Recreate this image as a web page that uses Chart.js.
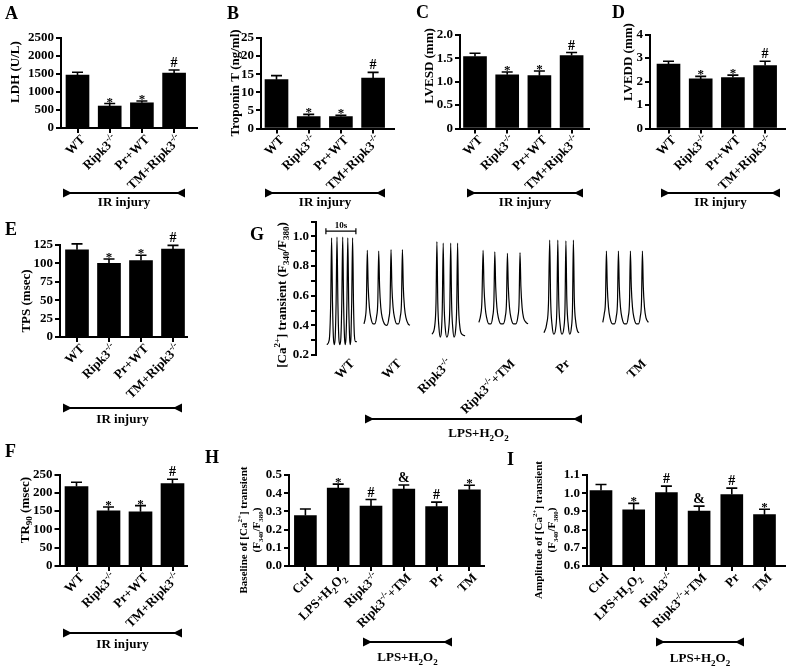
<!DOCTYPE html>
<html><head><meta charset="utf-8">
<script src="https://cdn.jsdelivr.net/npm/chart.js@4.4.1/dist/chart.umd.min.js"></script>
<style>
html,body{margin:0;padding:0;background:#fff;}
#wrap{position:relative;width:796px;height:670px;overflow:hidden;background:#fff;}
#wrap canvas{position:absolute;left:0;top:0;}
</style></head><body><div id="wrap"></div>
<script>
const FONT = '"Liberation Serif", "Times New Roman", serif';

// ---------- categories ----------
const irGroups = ['WT', 'Ripk3-/-', 'Pr+WT', 'TM+Ripk3-/-'];
const cellGroups = ['Ctrl', 'LPS+H2O2', 'Ripk3-/-', 'Ripk3-/-+TM', 'Pr', 'TM'];
const traceGroups = ['WT', 'WT', 'Ripk3-/-', 'Ripk3-/-+TM', 'Pr', 'TM'];

// ---------- panel values (mean, SEM, significance) ----------
const ldh = [1470, 610, 700, 1525];
const ldhErr = [80, 70, 50, 85];
const ldhSig = ['', '*', '*', '#'];

const troponin = [13.5, 3.3, 3.3, 13.9];
const troponinErr = [1.1, 0.6, 0.35, 1.6];
const troponinSig = ['', '*', '*', '#'];

const lvesd = [1.54, 1.15, 1.13, 1.56];
const lvesdErr = [0.07, 0.06, 0.10, 0.065];
const lvesdSig = ['', '*', '*', '#'];

const lvedd = [2.74, 2.11, 2.17, 2.68];
const lveddErr = [0.12, 0.11, 0.10, 0.18];
const lveddSig = ['', '*', '*', '#'];

const tps = [118.5, 100, 104, 119.5];
const tpsErr = [8, 6, 7, 5];
const tpsSig = ['', '*', '*', '#'];

const tr90 = [217, 151, 148, 225];
const tr90Err = [12, 10, 17, 12];
const tr90Sig = ['', '*', '*', '#'];

const baseline = [0.277, 0.428, 0.329, 0.422, 0.326, 0.419];
const baselineErr = [0.036, 0.022, 0.036, 0.023, 0.025, 0.025];
const baselineSig = ['', '*', '#', '&', '#', '*'];

const amplitude = [1.015, 0.908, 1.003, 0.902, 0.993, 0.882];
const amplitudeErr = [0.033, 0.036, 0.036, 0.027, 0.035, 0.030];
const amplitudeSig = ['', '*', '#', '&', '#', '*'];

// ---------- tick labels ----------
const ldhTicks = [0, 500, 1000, 1500, 2000, 2500];
const troponinTicks = [0, 5, 10, 15, 20, 25];
const lvesdTicks = [0, 0.5, 1.0, 1.5, 2.0];
const lveddTicks = [0, 1, 2, 3, 4];
const tpsTicks = [0, 25, 50, 75, 100, 125];
const tr90Ticks = [0, 50, 100, 150, 200, 250];
const baselineTicks = [0, 0.1, 0.2, 0.3, 0.4, 0.5];
const amplitudeTicks = [0.6, 0.7, 0.8, 0.9, 1.0, 1.1];
const caTicks = [0.2, 0.3, 0.4, 0.5, 0.6, 0.7, 0.8, 0.9, 1.0, 1.1];

// ---------- Ca2+ transient traces [time (s), F340/F380] ----------
const traceWT = [[3.6,0.27],[4.4,0.30],[4.9,0.55],[5.2,0.99],[5.5,0.55],[5.8,0.32],[6.1,0.27],[6.4,0.32],[6.7,0.55],[7.0,0.995],[7.3,0.55],[7.6,0.32],[7.95,0.27],[8.3,0.32],[8.6,0.55],[8.9,0.995],[9.2,0.55],[9.5,0.32],[9.75,0.27],[10.0,0.32],[10.3,0.55],[10.6,0.99],[10.9,0.55],[11.2,0.32],[11.4,0.27],[11.65,0.32],[11.9,0.55],[12.2,0.99],[12.5,0.55],[12.8,0.33],[13.2,0.29],[13.6,0.29]];
const traceLpsWT = [[16.0,0.41],[16.5,0.46],[16.8,0.55],[17.1,0.905],[17.4,0.66],[17.8,0.52],[18.3,0.45],[19.0,0.41],[19.6,0.41],[20.2,0.46],[20.6,0.56],[20.9,0.90],[21.2,0.66],[21.6,0.52],[22.1,0.45],[22.8,0.41],[23.6,0.40],[24.3,0.45],[24.7,0.55],[25.0,0.91],[25.3,0.66],[25.7,0.52],[26.2,0.45],[26.9,0.41],[27.5,0.41],[28.1,0.46],[28.5,0.56],[28.8,0.91],[29.1,0.66],[29.5,0.52],[30.0,0.45],[30.7,0.41],[31.3,0.40]];
const traceRipk3 = [[38.7,0.34],[39.6,0.40],[40.0,0.55],[40.3,0.965],[40.6,0.55],[41.0,0.38],[41.4,0.32],[41.8,0.36],[42.1,0.52],[42.4,0.955],[42.7,0.55],[43.1,0.38],[43.6,0.32],[44.2,0.37],[44.6,0.52],[44.9,0.955],[45.2,0.55],[45.6,0.38],[46.0,0.32],[46.5,0.36],[46.9,0.52],[47.2,0.955],[47.5,0.55],[47.9,0.40],[48.6,0.34],[49.7,0.33]];
const traceRipk3TM = [[54.3,0.42],[54.9,0.47],[55.3,0.56],[55.7,0.905],[56.0,0.66],[56.4,0.52],[56.9,0.45],[57.6,0.41],[58.3,0.41],[58.9,0.46],[59.3,0.56],[59.6,0.895],[59.9,0.66],[60.3,0.52],[60.8,0.45],[61.6,0.41],[62.4,0.41],[63.1,0.46],[63.5,0.56],[63.8,0.885],[64.1,0.66],[64.5,0.52],[65.0,0.45],[65.8,0.41],[66.6,0.41],[67.3,0.46],[67.7,0.56],[68.0,0.89],[68.3,0.66],[68.7,0.52],[69.2,0.45],[70.0,0.42],[70.7,0.41]];
const tracePr = [[76.0,0.35],[76.9,0.41],[77.5,0.55],[77.9,0.975],[78.2,0.58],[78.7,0.40],[79.3,0.34],[79.9,0.38],[80.3,0.52],[80.6,0.975],[80.9,0.58],[81.4,0.40],[82.0,0.34],[82.6,0.38],[83.0,0.52],[83.3,0.97],[83.6,0.58],[84.1,0.40],[84.6,0.34],[85.1,0.38],[85.5,0.52],[85.8,0.975],[86.1,0.58],[86.6,0.42],[87.2,0.36],[87.7,0.35]];
const traceTM = [[95.6,0.42],[96.1,0.48],[96.5,0.57],[96.8,0.90],[97.1,0.66],[97.5,0.52],[98.0,0.45],[98.8,0.41],[99.5,0.41],[100.1,0.46],[100.5,0.56],[100.8,0.90],[101.1,0.66],[101.5,0.52],[102.0,0.45],[102.8,0.41],[103.5,0.41],[104.1,0.46],[104.5,0.56],[104.8,0.90],[105.1,0.66],[105.5,0.52],[106.0,0.45],[106.8,0.41],[107.5,0.41],[108.1,0.46],[108.5,0.56],[108.8,0.90],[109.1,0.66],[109.5,0.52],[110.0,0.45],[110.8,0.42]];
const traces = [traceWT, traceLpsWT, traceRipk3, traceRipk3TM, tracePr, traceTM];
const scaleBarSeconds = 10;

// ---------- rich text helpers ----------
const RICH = {
  'Ripk3-/-': [['Ripk3'], ['-/-', 'sup']],
  'TM+Ripk3-/-': [['TM+Ripk3'], ['-/-', 'sup']],
  'Ripk3-/-+TM': [['Ripk3'], ['-/-', 'sup'], ['+TM']],
  'LPS+H2O2': [['LPS+H'], ['2', 'sub'], ['O'], ['2', 'sub']]
};
function rich(label) { return RICH[label] || [[label]]; }
function segFont(size, kind) { const s = kind ? Math.round(size * 0.68) : size; return `bold ${s}px ${FONT}`; }
function richWidth(ctx, segs, size) { let w = 0; for (const [t, k] of segs) { ctx.font = segFont(size, k); w += ctx.measureText(t).width; } return w; }
function drawRich(ctx, segs, x, y, size, align) {
  const w = richWidth(ctx, segs, size);
  let cx = align === 'right' ? x - w : align === 'center' ? x - w / 2 : x;
  ctx.textAlign = 'left'; ctx.textBaseline = 'alphabetic';
  for (const [t, k] of segs) {
    ctx.font = segFont(size, k);
    const dy = k === 'sup' ? -size * 0.42 : k === 'sub' ? size * 0.28 : 0;
    ctx.fillText(t, cx, y + dy);
    cx += ctx.measureText(t).width;
  }
}

const decor = {
  id: 'decor',
  afterDraw(chart, args, o) {
    const ctx = chart.ctx, xs = chart.scales.x, ys = chart.scales.y, area = chart.chartArea;
    ctx.save(); ctx.fillStyle = '#000'; ctx.strokeStyle = '#000';
    if (o.letter) {
      ctx.font = `bold 18px ${FONT}`; ctx.textAlign = 'left'; ctx.textBaseline = 'alphabetic';
      ctx.fillText(o.letter.t, o.letter.x, o.letter.y);
    }
    if (o.ytitle) {
      const sz = o.ytitle.size || 13;
      for (const line of o.ytitle.lines) {
        ctx.save(); ctx.translate(line.x, o.ytitle.cy); ctx.rotate(-Math.PI / 2);
        drawRich(ctx, line.segs, 0, sz * 0.35, sz, 'center'); ctx.restore();
      }
    }
    const ds = chart.data.datasets[0];
    if (o.err) {
      ctx.lineWidth = 1.6;
      o.err.forEach((e, i) => {
        const v = ds.data[i].y, x = xs.getPixelForValue(i);
        const y0 = ys.getPixelForValue(v), y1 = ys.getPixelForValue(v + e);
        ctx.beginPath(); ctx.moveTo(x, y0); ctx.lineTo(x, y1);
        ctx.moveTo(x - 5.5, y1); ctx.lineTo(x + 5.5, y1); ctx.stroke();
      });
    }
    if (o.sig) {
      ctx.textAlign = 'center'; ctx.textBaseline = 'alphabetic';
      o.sig.forEach((s, i) => {
        if (!s) return;
        const v = ds.data[i].y + o.err[i];
        const y = ys.getPixelForValue(v);
        ctx.font = `bold ${s === '*' ? 13 : 14}px ${FONT}`;
        ctx.fillText(s, xs.getPixelForValue(i), s === '*' ? y + 2 : y - 3);
      });
    }
    if (o.xlabels) {
      const L = o.xlabels, sz = L.size || 13;
      L.labels.forEach((lab, i) => {
        const px = xs.getPixelForValue(L.pos ? L.pos[i] : i) + (L.dx || 0);
        const py = (L.y != null ? L.y : area.bottom) + (L.dy || 0);
        ctx.save(); ctx.translate(px, py); ctx.rotate(-Math.PI / 4);
        drawRich(ctx, rich(lab), 0, sz * 0.35, sz, 'right'); ctx.restore();
      });
    }
    if (o.bracket) {
      const b = o.bracket;
      ctx.lineWidth = 2;
      ctx.beginPath(); ctx.moveTo(b.x1, b.y); ctx.lineTo(b.x2, b.y); ctx.stroke();
      ctx.beginPath(); ctx.moveTo(b.x1, b.y - 4.5); ctx.lineTo(b.x1, b.y + 4.5); ctx.lineTo(b.x1 + 9, b.y); ctx.closePath(); ctx.fill();
      ctx.beginPath(); ctx.moveTo(b.x2, b.y - 4.5); ctx.lineTo(b.x2, b.y + 4.5); ctx.lineTo(b.x2 - 9, b.y); ctx.closePath(); ctx.fill();
      drawRich(ctx, rich(b.text), (b.x1 + b.x2) / 2 + (b.tdx || 0), b.ty, 13, 'center');
    }
    if (o.scaleBar) {
      const s = o.scaleBar;
      const x1 = xs.getPixelForValue(s.x), x2 = xs.getPixelForValue(s.x + scaleBarSeconds), y = ys.getPixelForValue(s.y);
      ctx.lineWidth = 1.2;
      ctx.beginPath(); ctx.moveTo(x1, y); ctx.lineTo(x2, y);
      ctx.moveTo(x1, y - 3); ctx.lineTo(x1, y + 3); ctx.moveTo(x2, y - 3); ctx.lineTo(x2, y + 3); ctx.stroke();
      ctx.font = `bold 9px ${FONT}`; ctx.textAlign = 'center'; ctx.textBaseline = 'alphabetic';
      ctx.fillText(scaleBarSeconds + 's', (x1 + x2) / 2, y - 3);
    }
    ctx.restore();
  }
};

const wrap = document.getElementById('wrap');
function newCanvas() {
  const c = document.createElement('canvas'); c.width = 796; c.height = 670;
  c.style.width = '796px'; c.style.height = '670px'; wrap.appendChild(c); return c;
}
const YW = 40, XH = 6;
function axisLine() { return { display: true, color: '#000', width: 2 }; }
function tickGrid() { return { drawOnChartArea: false, drawTicks: true, tickLength: 5, color: '#000', lineWidth: 2, offset: false }; }

function makeBar(cfg) {
  const xmin = -cfg.off / cfg.sp, xmax = xmin + (cfg.right - cfg.left) / cfg.sp;
  new Chart(newCanvas(), {
    type: 'bar',
    data: { datasets: [{ data: cfg.values.map((v, i) => ({ x: i, y: v })), backgroundColor: '#000', borderWidth: 0, barThickness: cfg.bw }] },
    options: {
      responsive: false, animation: false, devicePixelRatio: 1,
      layout: { padding: { left: cfg.left - YW, top: cfg.top, right: 796 - cfg.right, bottom: 670 - cfg.bottom - XH } },
      plugins: {
        legend: { display: false }, tooltip: { enabled: false },
        decor: {
          letter: cfg.letter, ytitle: cfg.ytitle, err: cfg.err, sig: cfg.sig,
          xlabels: { labels: cfg.cats, dx: 5, dy: 9, size: 13 }, bracket: cfg.bracket
        }
      },
      scales: {
        x: {
          type: 'linear', min: xmin, max: xmax, offset: false,
          afterBuildTicks: s => { s.ticks = cfg.cats.map((c, i) => ({ value: i })); },
          afterFit: s => { s.height = XH; },
          ticks: { display: false, autoSkip: false }, grid: tickGrid(), border: axisLine()
        },
        y: {
          type: 'linear', min: cfg.ticks[0], max: cfg.ticks[cfg.ticks.length - 1],
          afterBuildTicks: s => { s.ticks = cfg.ticks.map(v => ({ value: v })); },
          afterFit: s => { s.width = YW; },
          ticks: { autoSkip: false, color: '#000', padding: 2, font: { family: FONT, size: 13, weight: 'bold' }, callback: cfg.fmt },
          grid: tickGrid(), border: axisLine()
        }
      }
    },
    plugins: [decor]
  });
}
const fmtInt = v => String(v);
const fmt1 = v => v.toFixed(1);
const fmtC = v => v === 0 ? '0' : v.toFixed(1);

makeBar({ values: ldh, err: ldhErr, sig: ldhSig, cats: irGroups, ticks: ldhTicks, fmt: fmtInt,
  left: 61, top: 38, bottom: 128, right: 197, off: 16.5, sp: 32.2, bw: 23,
  letter: { t: 'A', x: 5, y: 19 }, ytitle: { cy: 72, lines: [{ segs: [['LDH (U/L)']], x: 14 }] },
  bracket: { x1: 63, x2: 185, y: 193, ty: 206, text: 'IR injury' } });
makeBar({ values: troponin, err: troponinErr, sig: troponinSig, cats: irGroups, ticks: troponinTicks, fmt: fmtInt,
  left: 261, top: 38, bottom: 128.5, right: 394, off: 15.5, sp: 32.2, bw: 23,
  letter: { t: 'B', x: 227, y: 19 }, ytitle: { cy: 83, lines: [{ segs: [['Troponin T (ng/ml)']], x: 234 }] },
  bracket: { x1: 265, x2: 385, y: 193, ty: 206, text: 'IR injury' } });
makeBar({ values: lvesd, err: lvesdErr, sig: lvesdSig, cats: irGroups, ticks: lvesdTicks, fmt: fmtC,
  left: 460, top: 35, bottom: 128.5, right: 589, off: 15, sp: 32.2, bw: 23,
  letter: { t: 'C', x: 416, y: 18 }, ytitle: { cy: 66, lines: [{ segs: [['LVESD (mm)']], x: 428 }] },
  bracket: { x1: 467, x2: 583, y: 193, ty: 206, text: 'IR injury' } });
makeBar({ values: lvedd, err: lveddErr, sig: lveddSig, cats: irGroups, ticks: lveddTicks, fmt: fmtInt,
  left: 650, top: 34.5, bottom: 128.5, right: 785, off: 18.5, sp: 32.2, bw: 23,
  letter: { t: 'D', x: 612, y: 18 }, ytitle: { cy: 62, lines: [{ segs: [['LVEDD (mm)']], x: 627 }] },
  bracket: { x1: 661, x2: 780, y: 193, ty: 206, text: 'IR injury' } });
makeBar({ values: tps, err: tpsErr, sig: tpsSig, cats: irGroups, ticks: tpsTicks, fmt: fmtInt,
  left: 60, top: 245, bottom: 337, right: 187, off: 17, sp: 32, bw: 23,
  letter: { t: 'E', x: 5, y: 235 }, ytitle: { cy: 301, lines: [{ segs: [['TPS (msec)']], x: 25 }] },
  bracket: { x1: 63, x2: 182, y: 408, ty: 423, text: 'IR injury' } });
makeBar({ values: tr90, err: tr90Err, sig: tr90Sig, cats: irGroups, ticks: tr90Ticks, fmt: fmtInt,
  left: 59.5, top: 474.5, bottom: 566, right: 187, off: 17, sp: 32, bw: 23,
  letter: { t: 'F', x: 5, y: 457 }, ytitle: { cy: 510, lines: [{ segs: [['TR'], ['90', 'sub'], [' (msec)']], x: 24 }] },
  bracket: { x1: 63, x2: 182, y: 633, ty: 648, text: 'IR injury' } });
makeBar({ values: baseline, err: baselineErr, sig: baselineSig, cats: cellGroups, ticks: baselineTicks, fmt: fmt1,
  left: 289, top: 475, bottom: 566, right: 484, off: 16.4, sp: 32.8, bw: 22,
  letter: { t: 'H', x: 205, y: 463 },
  ytitle: { cy: 530, size: 11, lines: [
    { segs: [['Baseline of [Ca'], ['2+', 'sup'], ['] transient']], x: 243 },
    { segs: [['(F'], ['340', 'sub'], ['/F'], ['380', 'sub'], [')']], x: 256 }] },
  bracket: { x1: 363, x2: 452, y: 642, ty: 661, text: 'LPS+H2O2' } });
makeBar({ values: amplitude, err: amplitudeErr, sig: amplitudeSig, cats: cellGroups, ticks: amplitudeTicks, fmt: fmt1,
  left: 587, top: 475, bottom: 566, right: 785, off: 14, sp: 32.7, bw: 22,
  letter: { t: 'I', x: 507, y: 465 },
  ytitle: { cy: 530, size: 11, lines: [
    { segs: [['Amplitude of [Ca'], ['2+', 'sup'], ['] transient']], x: 538 },
    { segs: [['(F'], ['340', 'sub'], ['/F'], ['380', 'sub'], [')']], x: 551 }] },
  bracket: { x1: 656, x2: 744, y: 642, ty: 662, text: 'LPS+H2O2' } });

// ---------- panel G: Ca2+ transients ----------
const gLeft = 316, gTop = 221.5, gBottom = 355, gRight = 661;
new Chart(newCanvas(), {
  type: 'line',
  data: { datasets: traces.map(t => ({ data: t.map(([x, y]) => ({ x, y })), borderColor: '#000', borderWidth: 1.2, pointRadius: 0, cubicInterpolationMode: 'monotone', fill: false })) },
  options: {
    responsive: false, animation: false, devicePixelRatio: 1,
    layout: { padding: { left: gLeft - YW, top: gTop, right: 796 - gRight, bottom: 670 - gBottom } },
    plugins: {
      legend: { display: false }, tooltip: { enabled: false },
      decor: {
        letter: { t: 'G', x: 250, y: 240 },
        ytitle: { cy: 295, lines: [{ segs: [['[Ca'], ['2+', 'sup'], ['] transient (F'], ['340', 'sub'], ['/F'], ['380', 'sub'], [')']], x: 281 }] },
        xlabels: { labels: traceGroups, pos: [12, 27.6, 44.5, 65.5, 83.8, 109.2], y: 361, dx: 0, dy: 0, size: 13 },
        scaleBar: { x: 3.3, y: 1.035 },
        bracket: { x1: 365, x2: 582, y: 419, ty: 437, tdx: 5, text: 'LPS+H2O2' }
      }
    },
    scales: {
      x: { type: 'linear', min: 0, max: 115, display: false },
      y: {
        type: 'linear', min: caTicks[0], max: caTicks[caTicks.length - 1],
        afterBuildTicks: s => { s.ticks = caTicks.map(v => ({ value: v })); },
        afterFit: s => { s.width = YW; },
        ticks: { autoSkip: false, color: '#000', padding: 2, font: { family: FONT, size: 13, weight: 'bold' },
          callback: v => { const t = Math.round(v * 10); return (t % 2 === 0 && t <= 10) ? (t / 10).toFixed(1) : ''; } },
        grid: tickGrid(), border: axisLine()
      }
    }
  },
  plugins: [decor]
});
</script>
</body></html>
